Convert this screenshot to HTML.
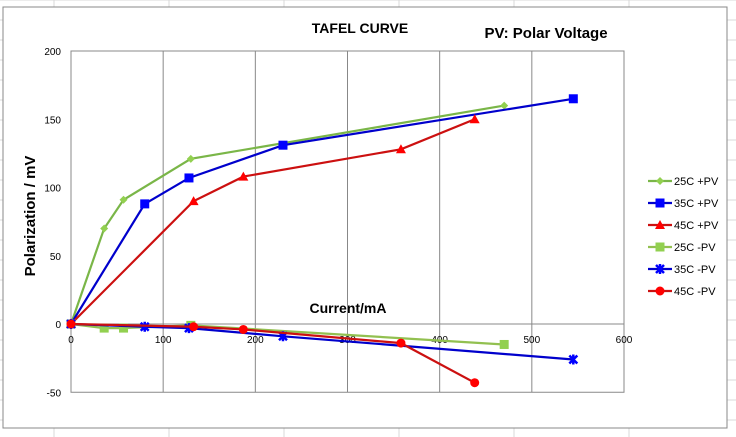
<!DOCTYPE html>
<html><head><meta charset="utf-8"><style>
body{margin:0;background:#fff;font-family:"Liberation Sans",sans-serif}
svg{display:block}
</style></head><body>
<svg id="c" width="736" height="437" xmlns="http://www.w3.org/2000/svg">
<g id="bg"></g>
<rect x="3" y="7" width="724" height="421" fill="#fff" stroke="#888"/>
<text x="360" y="33" font-size="14" font-weight="bold" text-anchor="middle">TAFEL CURVE</text>
<text x="546" y="38" font-size="15" font-weight="bold" text-anchor="middle">PV: Polar Voltage</text>
<text x="348" y="313" font-size="14" font-weight="bold" text-anchor="middle">Current/mA</text>
<text transform="translate(35,216) rotate(-90)" font-size="15" font-weight="bold" text-anchor="middle">Polarization / mV</text>
<g id="plot"></g>
<g id="legend"></g>
</svg>
<script>
const xTicks=[0,100,200,300,400,500,600];
const yTicks=[200,150,100,50,0,-50];
const seriesNames=["25C +PV","35C +PV","45C +PV","25C -PV","35C -PV","45C -PV"];
const xs25=[0,36,57,130,470];
const xs35=[0,80,128,230,545];
const xs45=[0,133,187,358,438];
const y25p=[0,70,91,121,160];
const y35p=[0,88,107,131,165];
const y45p=[0,90,108,128,150];
const y25n=[0,-3,-3,-1,-15];
const y35n=[0,-2,-3,-9,-26];
const y45n=[0,-2,-4,-14,-43];
const X=v=>71+v*(553/600);
const Y=v=>324-v*(273/200);
const NS="http://www.w3.org/2000/svg";
function mk(t,a,p){const e=document.createElementNS(NS,t);for(const k in a)e.setAttribute(k,a[k]);p.appendChild(e);return e;}
const bg=document.getElementById('bg'),plot=document.getElementById('plot'),lg=document.getElementById('legend');
for(let x=54;x<736;x+=115){const l=mk('line',{x1:x,y1:0,x2:x,y2:437,stroke:'#d8d8d8'},bg);}
for(let y=0;y<437;y+=20){const l=mk('line',{x1:0,y1:y,x2:736,y2:y,stroke:'#d8d8d8'},bg);}
const pr=mk('rect',{x:X(0),y:Y(200),width:X(600)-X(0),height:Y(-50)-Y(200),fill:'none',stroke:'#888'},plot);

xTicks.forEach(t=>{
 if(t>0){const g=mk('line',{x1:X(t),y1:Y(200),x2:X(t),y2:Y(-50),stroke:'#888'},plot);}
 const tx=mk('text',{x:X(t),y:Y(0)+19,'font-size':10,'text-anchor':'middle'},plot);tx.textContent=t;
 
});
yTicks.forEach(t=>{
 const tx=mk('text',{x:X(0)-10,y:Y(t)+4,'font-size':10,'text-anchor':'end'},plot);tx.textContent=t;
 
});
const ax=mk('line',{x1:X(0),y1:Y(0),x2:X(600),y2:Y(0),stroke:'#888'},plot);
const series=[[xs25,y25p,'#92d050','#7ab648','diamond'],[xs35,y35p,'#0000ff','#0000cc','square'],[xs45,y45p,'#ff0000','#cc1010','triangle'],
[xs25,y25n,'#92d050','#92c050','square'],[xs35,y35n,'#0000ff','#0000cc','star'],[xs45,y45n,'#ff0000','#cc1010','circle']];
function marker(type,x,y,c,p){
 let e;
 if(type==='diamond')e=mk('path',{d:`M${x} ${y-4}L${x+4} ${y}L${x} ${y+4}L${x-4} ${y}Z`,fill:c},p);
 else if(type==='square')e=mk('rect',{x:x-4.5,y:y-4.5,width:9,height:9,fill:c},p);
 else if(type==='triangle')e=mk('path',{d:`M${x} ${y-5}L${x+5} ${y+4}L${x-5} ${y+4}Z`,fill:c},p);
 else if(type==='circle')e=mk('circle',{cx:x,cy:y,r:4.5,fill:c},p);
 else e=mk('path',{d:`M${x-4} ${y-4}L${x+4} ${y+4}M${x+4} ${y-4}L${x-4} ${y+4}M${x} ${y-5}V${y+5}`,stroke:c,'stroke-width':2.5},p);
 return e;
}
series.forEach((s,i)=>{
 const [xs,ys,mc,lc,type]=s;
 const pts=xs.map((v,j)=>X(v)+','+Y(ys[j])).join(' ');
 const pl=mk('polyline',{points:pts,fill:'none',stroke:lc,'stroke-width':2.2},plot);
 
 xs.forEach((v,j)=>{const m=marker(type,X(v),Y(ys[j]),mc,plot);});
 const ly=181+i*22;
 const ll=mk('line',{x1:648,y1:ly,x2:672,y2:ly,stroke:lc,'stroke-width':2.2},lg);
 const lm=marker(type,660,ly,mc,lg);
 const lt=mk('text',{x:674,y:ly+4,'font-size':11},lg);lt.textContent=seriesNames[i];
 
});
</script>
</body></html>
